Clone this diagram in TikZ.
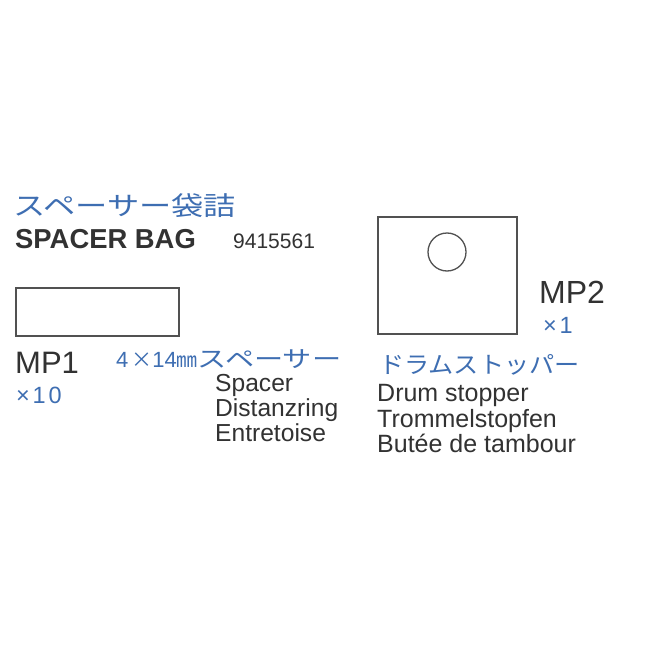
\documentclass[tikz,border=0pt]{standalone}
\usepackage{fontspec}
\usepackage{graphicx}
\setmainfont{Liberation Sans}
\newfontfamily\cjk{Noto Sans CJK JP}
\newfontfamily\latsp[LetterSpace=12]{Liberation Sans}
\definecolor{tblue}{RGB}{62,110,178}
\definecolor{tdark}{RGB}{50,50,50}
\begin{document}
\begin{tikzpicture}[x=1pt,y=-1pt,
  txt/.style={inner sep=0pt, anchor=base west, text=tdark},
  jp/.style={inner sep=0pt, anchor=base west, text=tblue},
  part/.style={draw=tdark!85, line width=1.6pt, inner sep=0pt, anchor=north west}]
\useasboundingbox[fill=white] (0,0) rectangle (650,650);
% header
\node[jp, font=\cjk\fontsize{26}{26}\selectfont] (title) at (13,215) {\scalebox{1.24}[1]{スペーサー袋詰}};
\node[txt, font=\bfseries\fontsize{27.4}{27}\selectfont] (bag) at (15,248) {SPACER BAG};
\node[txt, font=\fontsize{21}{21}\selectfont] (num) at (233,248) {9415561};
% MP1
\node[part, minimum width=163pt, minimum height=48pt] (mp1box) at (15,287) {};
\node[txt, font=\fontsize{31}{31}\selectfont] (mp1) at (15,373) {MP1};
\node[jp, font=\latsp\fontsize{23.5}{23}\selectfont] (q1) at (16,403) {×10};
\node[jp, font=\fontsize{22}{22}\selectfont] (mp1jp) at (116,367)
  {4\hspace{3pt}{\cjk\fontsize{21}{21}\selectfont ×}14{\cjk\fontsize{21}{21}\selectfont ㎜}{\cjk\fontsize{23}{23}\selectfont\scalebox{1.27}[1]{スペーサー}}};
\node[txt, font=\fontsize{24.6}{24}\selectfont] (sp) at (215,391) {Spacer};
\node[txt, font=\fontsize{24.6}{24}\selectfont] (dz) at (215,416) {Distanzring};
\node[txt, font=\fontsize{24.6}{24}\selectfont] (en) at (215,441) {Entretoise};
% MP2
\node[part, minimum width=139pt, minimum height=117pt] (mp2box) at (377,216) {};
\node[draw=tdark!85, line width=1.3pt, circle, minimum size=38pt, inner sep=0pt] (hole) at (447,252) {};
\node[txt, font=\fontsize{32}{32}\selectfont] (mp2) at (539,303) {MP2};
\node[jp, font=\latsp\fontsize{23.5}{23}\selectfont] (q2) at (543,333) {×1};
\node[jp, font=\cjk\fontsize{23.5}{23}\selectfont] (mp2jp) at (379,373) {\scalebox{1.07}[1]{ドラムストッパー}};
\node[txt, font=\fontsize{25}{25}\selectfont] (dr) at (377,401) {Drum stopper};
\node[txt, font=\fontsize{25}{25}\selectfont] (tr) at (377,427) {Trommelstopfen};
\node[txt, font=\fontsize{25}{25}\selectfont] (bu) at (377,452) {Butée de tambour};
\end{tikzpicture}
\end{document}
